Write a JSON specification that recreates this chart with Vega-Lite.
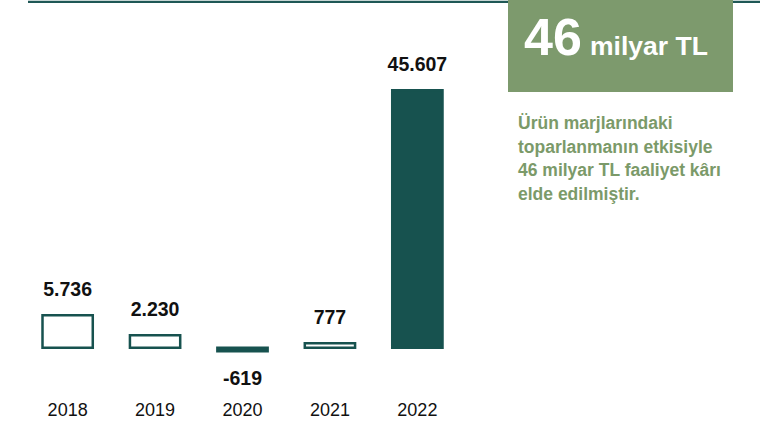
{
  "$schema": "https://vega.github.io/schema/vega-lite/v6.json",
  "padding": {"left": 26, "top": 0, "right": 0, "bottom": 0},
  "spacing": 0,
  "bounds": "flush",
  "background": "#ffffff",
  "config": {"view": {"stroke": null}, "font": "Liberation Sans", "concat": {"spacing": 0}},
  "datasets": {
    "profit": [
      {"year": "2018", "value": 5736, "label": "5.736"},
      {"year": "2019", "value": 2230, "label": "2.230"},
      {"year": "2020", "value": -619, "label": "-619"},
      {"year": "2021", "value": 777, "label": "777"},
      {"year": "2022", "value": 45607, "label": "45.607"}
    ],
    "headline": [{"number": "46", "unit": "milyar TL"}],
    "note": [{"text": "Ürün marjlarındaki\ntoparlanmanın etkisiyle\n46 milyar TL faaliyet kârı\nelde edilmiştir."}]
  },
  "hconcat": [
    {
      "width": 480,
      "height": 390,
      "layer": [
        {
          "data": {"values": [{}]},
          "mark": {"type": "rule", "color": "#1f5856", "strokeWidth": 2.2},
          "encoding": {
            "y": {"datum": 61270, "type": "quantitative", "scale": {"domain": [-7483, 61587], "nice": false, "zero": false}, "axis": null}
          }
        },
        {
          "data": {"name": "profit"},
          "mark": {"type": "bar", "stroke": "#17524f", "strokeWidth": 2.5},
          "encoding": {
            "x": {
              "field": "year", "type": "ordinal",
              "scale": {"range": [14.5, 414.5], "paddingInner": 0.425, "paddingOuter": 0},
              "axis": {"title": null, "domain": false, "ticks": false, "labelFontSize": 18, "labelColor": "#111111", "labelPadding": 11.5, "labelAngle": 0, "labelFont": "Liberation Sans"}
            },
            "y": {"field": "value", "type": "quantitative", "scale": {"domain": [-7483, 61587], "nice": false, "zero": false}, "axis": null},
            "fill": {"condition": {"test": "datum.year === '2022' || datum.year === '2020'", "value": "#17524f"}, "value": "#ffffff"}
          }
        },
        {
          "data": {"name": "profit"},
          "transform": [{"filter": "datum.value >= 0"}],
          "mark": {"type": "text", "baseline": "alphabetic", "align": "center", "dy": -19.5, "fontSize": 19.5, "fontWeight": "bold", "color": "#111111"},
          "encoding": {
            "x": {"field": "year", "type": "ordinal"},
            "y": {"field": "value", "type": "quantitative"},
            "text": {"field": "label"}
          }
        },
        {
          "data": {"name": "profit"},
          "transform": [{"filter": "datum.value < 0"}],
          "mark": {"type": "text", "baseline": "alphabetic", "align": "center", "dy": 34, "fontSize": 19.5, "fontWeight": "bold", "color": "#111111"},
          "encoding": {
            "x": {"field": "year", "type": "ordinal"},
            "y": {"field": "value", "type": "quantitative"},
            "text": {"field": "label"}
          }
        }
      ]
    },
    {
      "width": 254,
      "height": 390,
      "layer": [
        {
          "data": {"values": [{}]},
          "mark": {"type": "rule", "color": "#1f5856", "strokeWidth": 2.2},
          "encoding": {
            "y": {"datum": 1.8, "type": "quantitative", "scale": {"domain": [0, 390], "reverse": true, "nice": false, "zero": false}, "axis": null}
          }
        },
        {
          "data": {"values": [{}]},
          "mark": {"type": "rect", "color": "#7d9a6d"},
          "encoding": {
            "x": {"datum": 0, "type": "quantitative", "scale": {"domain": [0, 254], "nice": false, "zero": false}, "axis": null},
            "x2": {"datum": 225},
            "y": {"datum": 0, "type": "quantitative", "axis": null},
            "y2": {"datum": 92}
          }
        },
        {
          "data": {"name": "headline"},
          "mark": {"type": "text", "align": "left", "baseline": "alphabetic", "fontSize": 52, "fontWeight": "bold", "color": "#ffffff"},
          "encoding": {
            "x": {"datum": 16, "type": "quantitative"},
            "y": {"datum": 55, "type": "quantitative"},
            "text": {"field": "number"}
          }
        },
        {
          "data": {"name": "headline"},
          "mark": {"type": "text", "align": "left", "baseline": "alphabetic", "fontSize": 26.5, "fontWeight": "bold", "color": "#ffffff"},
          "encoding": {
            "x": {"datum": 82, "type": "quantitative"},
            "y": {"datum": 55, "type": "quantitative"},
            "text": {"field": "unit"}
          }
        },
        {
          "data": {"name": "note"},
          "mark": {"type": "text", "align": "left", "baseline": "alphabetic", "lineBreak": "\n", "lineHeight": 23.5, "fontSize": 17.5, "fontWeight": "bold", "color": "#7b9a69"},
          "encoding": {
            "x": {"datum": 10, "type": "quantitative"},
            "y": {"datum": 129, "type": "quantitative"},
            "text": {"field": "text"}
          }
        }
      ]
    }
  ]
}
